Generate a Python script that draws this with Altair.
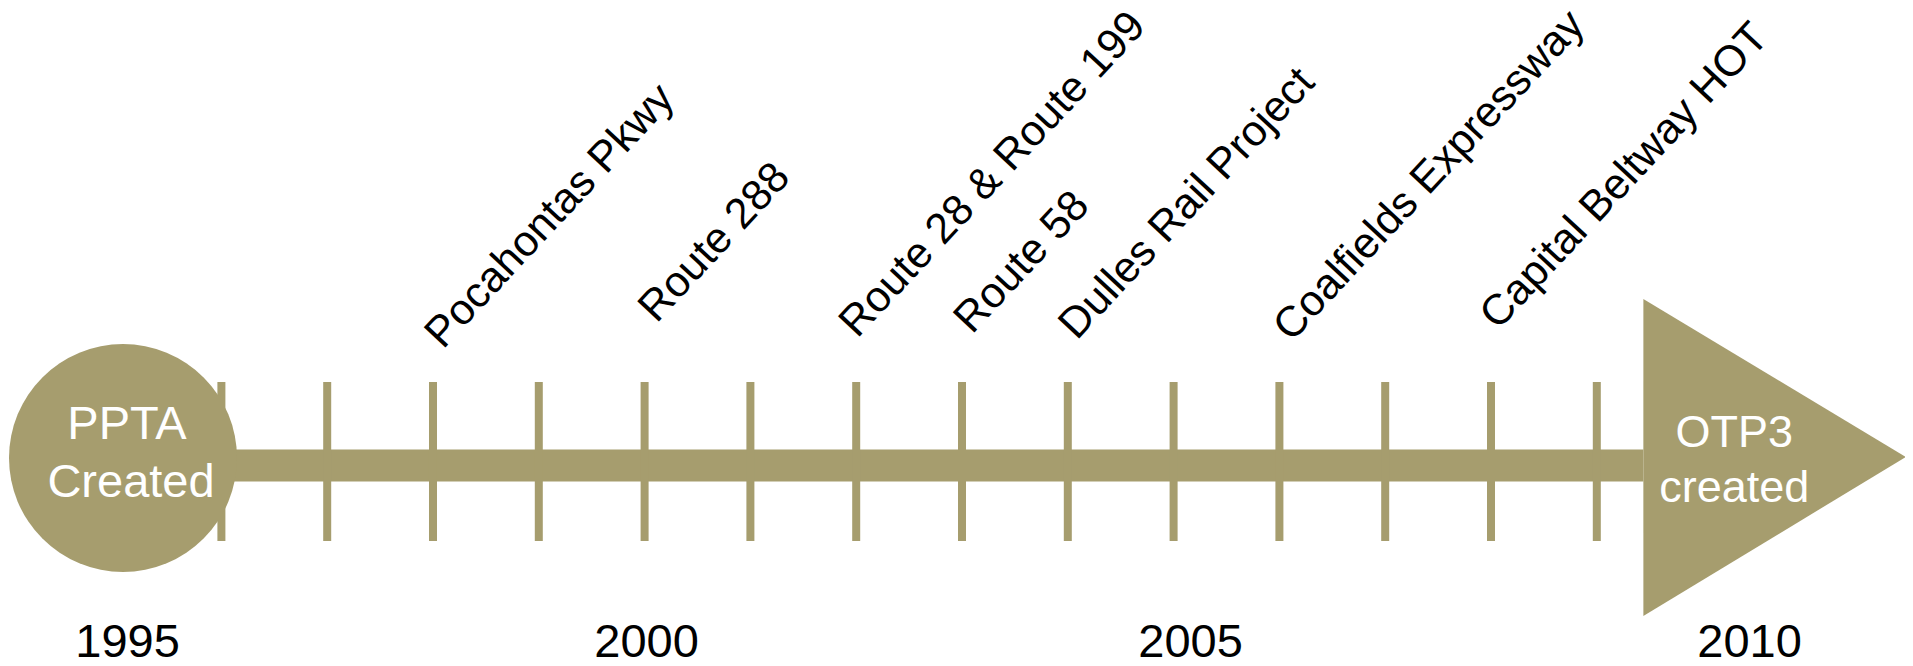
import altair as alt
import pandas as pd

# ---------------- data ----------------
tick_years = [1996, 1997, 1998, 1999, 2000, 2001, 2002, 2003, 2004, 2005, 2006, 2007, 2008, 2009]

project_names = ["Pocahontas Pkwy", "Route 288", "Route 28 & Route 199", "Route 58",
                 "Dulles Rail Project", "Coalfields Expressway", "Capital Beltway HOT"]
project_years = [1998, 2000, 2002, 2003, 2004, 2006, 2008]

year_labels = ["1995", "2000", "2005", "2010"]
year_values = [1995, 2000, 2005, 2010]

start_lines = ["PPTA", "Created"]
start_year = 1995.07
end_lines = ["OTP3", "created"]
end_year = 2009.44   # arrow base
arrow_tip_year = 2011.92
end_text_year = 2010.3

# ---------------- layout (pixels / offsets) ----------------
X0, X1 = 1993.983, 2011.913
W, H = 1897, 650
PX_PER_YEAR = W / (X1 - X0)
Y0, Y1 = -192.5, 457.5

label_shift_px = [10, 12, 1, 10, 9, 12, 7]
label_base = [115.5, 141.5, 126.5, 130.5, 124.5, 122.5, 134.5]
year_shift_px = [12, 2, 17, 47]
start_text_shift_px = [4, 8]
start_text_y = [26.5, -31.5]
end_text_y = [18.5, -36.5]

COLOR = "#A69D6E"
FONT = "Liberation Sans"

xs = alt.Scale(domain=[X0, X1], nice=False, zero=False)
ys = alt.Scale(domain=[Y0, Y1], nice=False, zero=False)


def X(f="x"):
    return alt.X(f"{f}:Q", scale=xs, axis=None)


def Y(f="y"):
    return alt.Y(f"{f}:Q", scale=ys, axis=None)


# main bar
bar_df = pd.DataFrame({"x": [start_year], "x2": [end_year], "y": [-16], "y2": [16]})
bar = alt.Chart(bar_df).mark_rect(color=COLOR).encode(
    x=X(), x2="x2:Q", y=Y(), y2="y2:Q")

# ticks
tick_df = pd.DataFrame({"x": tick_years, "y": [-75.5] * len(tick_years), "y2": [83.5] * len(tick_years)})
ticks = alt.Chart(tick_df).mark_rule(color=COLOR, strokeWidth=8, strokeCap="butt").encode(
    x=X(), y=Y(), y2="y2:Q")

# start circle
circ_df = pd.DataFrame({"x": [start_year], "y": [7.5]})
circle = alt.Chart(circ_df).mark_circle(color=COLOR, size=228 * 228, opacity=1).encode(
    x=X(), y=Y())

# end arrow (triangle)
tri_df = pd.DataFrame({"x": [end_year, arrow_tip_year], "y": [166.5, 8.5], "y2": [-150.5, 8.5]})
tri = alt.Chart(tri_df).mark_area(color=COLOR, orient="vertical", opacity=1).encode(
    x=X(), y=Y(), y2="y2:Q")

# circle text
st_df = pd.DataFrame({
    "t": start_lines,
    "x": [start_year + s / PX_PER_YEAR for s in start_text_shift_px],
    "y": start_text_y,
})
st_text = alt.Chart(st_df).mark_text(color="white", font=FONT, fontSize=47,
                                      align="center", baseline="alphabetic").encode(
    x=X(), y=Y(), text="t:N")

# arrow text
en_df = pd.DataFrame({
    "t": end_lines,
    "x": [end_text_year] * len(end_lines),
    "y": end_text_y,
})
en_text = alt.Chart(en_df).mark_text(color="white", font=FONT, fontSize=45,
                                      align="center", baseline="alphabetic").encode(
    x=X(), y=Y(), text="t:N")

# project labels
pj_df = pd.DataFrame({
    "t": project_names,
    "x": [yr + s / PX_PER_YEAR for yr, s in zip(project_years, label_shift_px)],
    "y": label_base,
})
pj_text = alt.Chart(pj_df).mark_text(color="black", font=FONT, fontSize=43, angle=313,
                                      align="left", baseline="alphabetic").encode(
    x=X(), y=Y(), text="t:N")

# year labels
yr_df = pd.DataFrame({
    "t": year_labels,
    "x": [yr + s / PX_PER_YEAR for yr, s in zip(year_values, year_shift_px)],
    "y": [Y0 + 1] * len(year_labels),
})
yr_text = alt.Chart(yr_df).mark_text(color="black", font=FONT, fontSize=47,
                                      align="center", baseline="alphabetic").encode(
    x=X(), y=Y(), text="t:N")

chart = alt.layer(bar, ticks, circle, tri, st_text, en_text, pj_text, yr_text).properties(
    width=W, height=H, padding=0, autosize=alt.AutoSizeParams(type="none")
).configure_view(stroke=None)

chart.save("out.html", embed_options={"renderer": "svg", "actions": False})
